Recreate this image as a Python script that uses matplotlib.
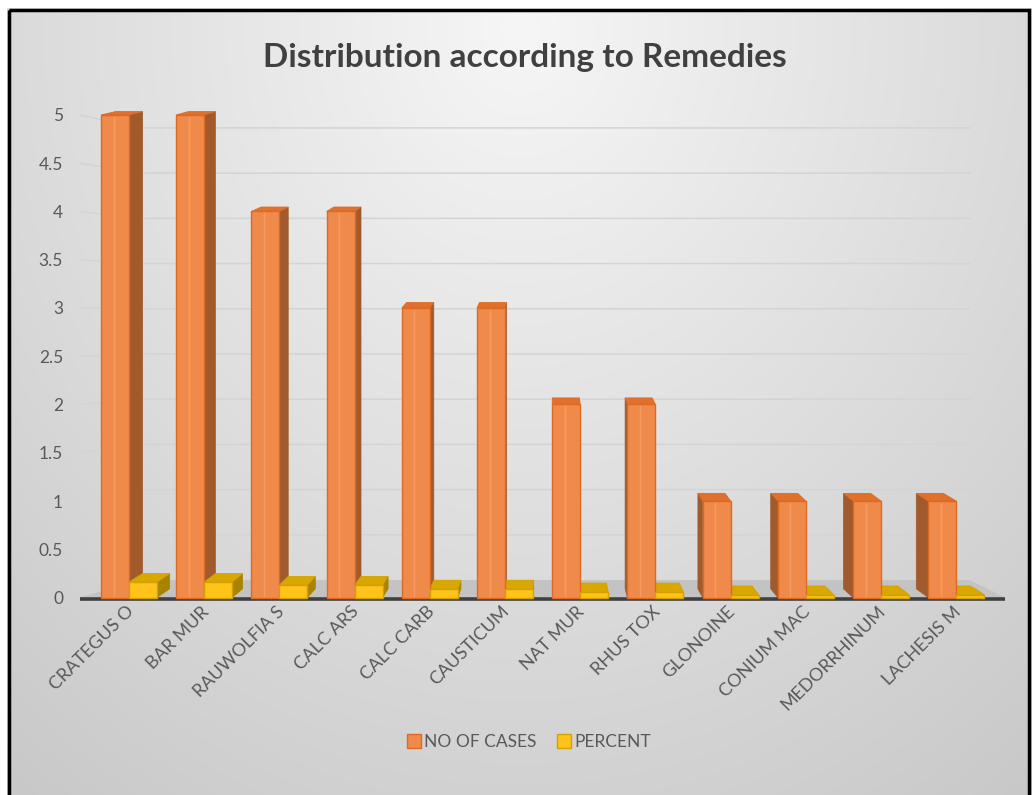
#!/usr/bin/env python3

import matplotlib.pyplot as plt
import numpy as np
from matplotlib.patches import Patch, Polygon, Rectangle

remedies = [
    "CRATEGUS O", "BAR MUR", "RAUWOLFIA S", "CALC ARS", "CALC CARB", "CAUSTICUM",
    "NAT MUR", "RHUS TOX", "GLONOINE", "CONIUM MAC", "MEDORRHINUM", "LACHESIS M",
]
no_of_cases = [5, 5, 4, 4, 3, 3, 2, 2, 1, 1, 1, 1]
percent = [0.16, 0.16, 0.13, 0.13, 0.09, 0.09, 0.06, 0.06, 0.03, 0.03, 0.03, 0.03]
y_ticks = [0, 0.5, 1, 1.5, 2, 2.5, 3, 3.5, 4, 4.5, 5]
y_tick_labels = ["0", "0.5", "1", "1.5", "2", "2.5", "3", "3.5", "4", "4.5", "5"]

FONT = ["Lato", "DejaVu Sans"]
TEXT_COLOR = "#595959"

# colours: front, top, side, edge
ORANGE = ("#F08A4B", "#E0702E", "#A05A2C", "#DD6A22")
YELLOW = ("#FFC31A", "#D9A800", "#A88300", "#D4A200")

BAR_W = 0.372
# simple perspective used to fake the Excel 3D look
VX, SX = 5.665, 0.968
WALL_X0, WALL_X1 = 0.146, 11.18
FRONT_X0, FRONT_X1 = -0.652, 11.649


def back_x(x):
    return VX + (x - VX) * SX


def back_v(v):
    return v + 0.09 - 0.011 * v


def wall_v(v):
    return 0.181 + 0.937 * v


def draw_bar(ax, x0, value, colors, z):
    x1 = x0 + BAR_W
    front, top, side, edge = colors
    bx0, bx1 = back_x(x0), back_x(x1)
    bv, b0 = back_v(value), back_v(0)
    if bx1 > x1:
        ax.add_patch(Polygon([(x1, 0), (x1, value), (bx1, bv), (bx1, b0)],
                             closed=True, facecolor=side, edgecolor=side,
                             lw=0.5, zorder=z))
    if bx0 < x0:
        ax.add_patch(Polygon([(x0, 0), (x0, value), (bx0, bv), (bx0, b0)],
                             closed=True, facecolor=side, edgecolor=side,
                             lw=0.5, zorder=z))
    ax.add_patch(Polygon([(x0, value), (x1, value), (bx1, bv), (bx0, bv)],
                         closed=True, facecolor=top, edgecolor=edge,
                         lw=0.6, zorder=z + 0.1))
    ax.bar(x0, value, width=BAR_W, align="edge", color=front,
           edgecolor=edge, linewidth=1.0, zorder=5)
    # faint highlight line on the front face
    if value > 0.5:
        ax.plot([x0 + BAR_W * 0.45] * 2, [0.02, value - 0.02],
                color="#F59A60", lw=1.0, zorder=5.1)


fig = plt.figure(figsize=(10.32, 7.95), dpi=100)

# background gradient
bg = fig.add_axes([0, 0, 1, 1], zorder=-10)
H, W = 795, 1032
yy, xx = np.mgrid[0:H, 0:W]
d = np.sqrt(((xx - 520) / 700.0) ** 2 + ((yy - 30) / 800.0) ** 2)
shade = np.clip(0.965 - 0.15 * d, 0, 1)
bg.imshow(np.dstack([shade] * 3), extent=[0, W, H, 0], aspect="auto")
bg.set_xlim(0, W)
bg.set_ylim(H, 0)
bg.axis("off")
bg.add_patch(Rectangle((0, 0), W, 8, facecolor="white", edgecolor="none", zorder=2))
bg.add_patch(Rectangle((0, 0), 7, H, facecolor="white", edgecolor="none", zorder=2))
bg.add_patch(Rectangle((8.5, 9.5), W - 12, H, facecolor="none",
                       edgecolor="black", lw=2.5, zorder=3))

ax = fig.add_axes([70 / 1032, 1 - 620 / 795, 940 / 1032, 525 / 795])
ax.set_facecolor("none")
ax.set_xlim((70 - 129) / 75.2, (1010 - 129) / 75.2)
ax.set_ylim(-0.233, 5.207)
for spine in ax.spines.values():
    spine.set_visible(False)

# gridlines: left wall slope then back wall
for v in y_ticks[1:]:
    ax.plot([FRONT_X0, WALL_X0, WALL_X1], [v, wall_v(v), wall_v(v)],
            color="#d4d4d4", lw=1.1, zorder=1)

# floor and front axis line
ax.add_patch(Polygon([(FRONT_X0, 0), (FRONT_X1, 0), (WALL_X1, wall_v(0)),
                      (WALL_X0, wall_v(0))], closed=True,
                     facecolor="#c3c3c3", edgecolor="none", zorder=1.2))
ax.plot([FRONT_X0, FRONT_X1], [-0.012, -0.012], color="#404040", lw=2.6,
        zorder=4, solid_capstyle="butt")

x = np.arange(len(remedies))
for i in x:
    draw_bar(ax, i - BAR_W, no_of_cases[i], ORANGE, 2)
for i in x:
    draw_bar(ax, i, percent[i], YELLOW, 3)

ax.set_yticks(y_ticks)
ax.set_yticklabels(y_tick_labels, fontsize=12.5, color=TEXT_COLOR, family=FONT)
ax.tick_params(axis="y", length=0, pad=5)
ax.set_xticks([])

for i, name in zip(x, remedies):
    ax.text(i - 0.05, -0.06, name, rotation=45, ha="right", va="top",
            rotation_mode="anchor", fontsize=13, color=TEXT_COLOR, family=FONT)

fig.text(525 / 1032, 1 - 58 / 795, "Distribution according to Remedies",
         ha="center", va="center", fontsize=24, fontweight="bold",
         color="#404040", family=FONT)

handles = [
    Patch(facecolor=ORANGE[0], edgecolor=ORANGE[3], label="NO OF CASES"),
    Patch(facecolor=YELLOW[0], edgecolor=YELLOW[3], label="PERCENT"),
]
leg = fig.legend(handles=handles, loc="center", bbox_to_anchor=(529 / 1032, 1 - 742 / 795),
                 ncol=2, frameon=False, handlelength=0.8, handleheight=0.8,
                 handletextpad=0.2, columnspacing=1.2,
                 prop={"family": FONT, "size": 12.5})
for t in leg.get_texts():
    t.set_color(TEXT_COLOR)

fig.savefig("out.png", dpi=100)
